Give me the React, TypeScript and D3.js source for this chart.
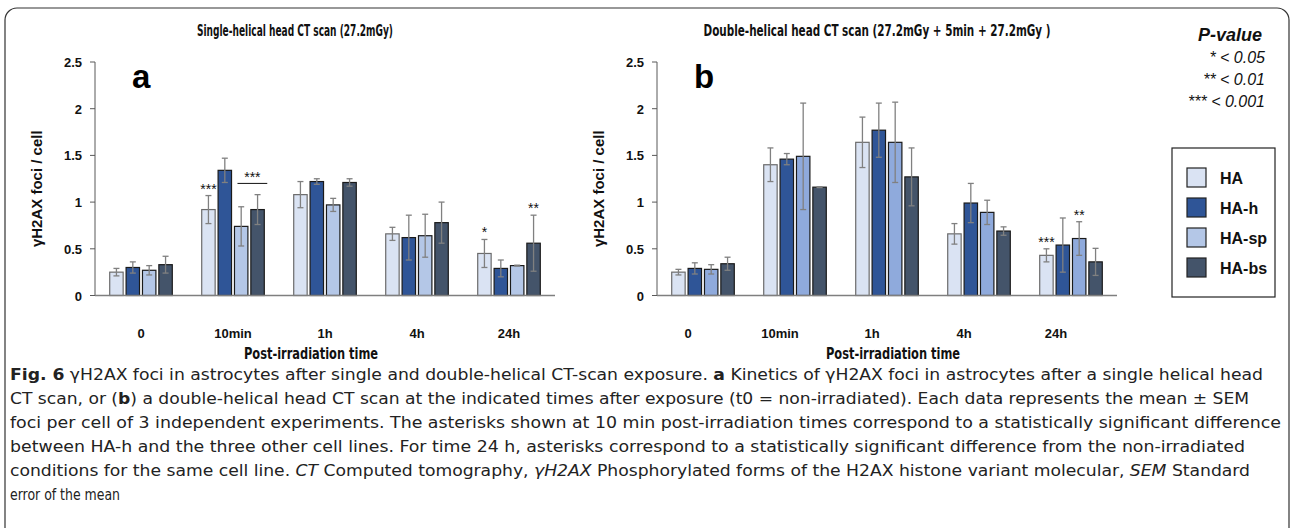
import React from "react";
import * as d3 from "d3";

const timePoints = ["0", "10min", "1h", "4h", "24h"];
const cellLines = ["HA", "HA-h", "HA-sp", "HA-bs"];
const yTicks = [0, 0.5, 1, 1.5, 2, 2.5];

// single-helical scan (panel a): mean and SEM per time point
const singleHA = [0.25, 0.92, 1.08, 0.66, 0.45];
const singleHAh = [0.3, 1.34, 1.22, 0.62, 0.29];
const singleHAsp = [0.27, 0.74, 0.97, 0.64, 0.32];
const singleHAbs = [0.33, 0.92, 1.21, 0.78, 0.56];
const singleHAerr = [0.04, 0.15, 0.14, 0.07, 0.15];
const singleHAhErr = [0.06, 0.13, 0.03, 0.24, 0.09];
const singleHAspErr = [0.05, 0.21, 0.07, 0.23, 0.005];
const singleHAbsErr = [0.09, 0.16, 0.04, 0.22, 0.3];

// double-helical scan (panel b)
const doubleHA = [0.25, 1.4, 1.64, 0.66, 0.43];
const doubleHAh = [0.29, 1.46, 1.77, 0.99, 0.54];
const doubleHAsp = [0.28, 1.49, 1.64, 0.89, 0.61];
const doubleHAbs = [0.34, 1.16, 1.27, 0.69, 0.36];
const doubleHAerr = [0.03, 0.18, 0.27, 0.11, 0.07];
const doubleHAhErr = [0.06, 0.06, 0.29, 0.21, 0.29];
const doubleHAspErr = [0.05, 0.57, 0.43, 0.13, 0.18];
const doubleHAbsErr = [0.07, 0.005, 0.31, 0.045, 0.145];

const singleStars = [
  { time: "10min", line: "HA", label: "***" },
  { time: "24h", line: "HA", label: "*" },
  { time: "24h", line: "HA-bs", label: "**" },
];
const doubleStars = [
  { time: "24h", line: "HA", label: "***" },
  { time: "24h", line: "HA-sp", label: "**" },
];
const pValueLines = ["* < 0.05", "** < 0.01", "*** < 0.001"];

const fillsA: Record<string, string> = {
  HA: "#dae3f3",
  "HA-h": "#2f5597",
  "HA-sp": "#b4c7e7",
  "HA-bs": "#44546a",
};
const fillsB: Record<string, string> = { ...fillsA, "HA-sp": "#8faadc" };

const arial = "Liberation Sans, Arial, sans-serif";
const narrow = "DejaVu Sans Condensed, Liberation Sans, sans-serif";

function Panel({ left, means, errs, fills, stars, letter, title, titleX, titleLen, bracket, labelShift }: any) {
  const top = 62;
  const bottom = 295.5;
  const width = 460;
  const x = d3.scaleBand().domain(timePoints).range([left, left + width]).paddingInner(0.32).paddingOuter(0.16);
  const xi = d3.scaleBand().domain(cellLines).range([0, x.bandwidth()]).paddingInner(0.18);
  const y = d3.scaleLinear().domain([0, 2.5]).range([bottom, top]);
  const bx = (t: string, c: string) => (x(t) as number) + (xi(c) as number);
  const bw = xi.bandwidth();

  return (
    <g>
      <text x={titleX} y={36} fontFamily={narrow} fontWeight="bold" fontSize={16} textAnchor="middle"
        textLength={titleLen} lengthAdjust="spacingAndGlyphs" fill="#111">{title}</text>
      {/* y axis */}
      <line x1={left} x2={left} y1={top} y2={bottom} stroke="#595959" strokeWidth={1} />
      {yTicks.map((t) => (
        <g key={t}>
          <line x1={left - 5} x2={left} y1={y(t)} y2={y(t)} stroke="#595959" />
          <text x={left - 13} y={y(t) + 5} textAnchor="end" fontFamily={arial} fontWeight="bold" fontSize={13} fill="#111">{t}</text>
        </g>
      ))}
      <text transform={`translate(${left - 53},${(top + bottom) / 2 + 10}) rotate(-90)`} textAnchor="middle"
        fontFamily={arial} fontWeight="bold" fontSize={15} fill="#111">γH2AX foci / cell</text>
      <text x={left + 37} y={88} fontFamily={arial} fontWeight="bold" fontSize={33} fill="#000">{letter}</text>
      {/* bars */}
      {cellLines.map((c, ci) =>
        timePoints.map((t, ti) => {
          const v = means[ci][ti];
          const e = errs[ci][ti];
          const cx = bx(t, c) + bw / 2;
          return (
            <g key={c + t}>
              <rect x={bx(t, c)} y={y(v)} width={bw} height={y(0) - y(v)} fill={fills[c]}
                stroke={c === "HA" ? "#6b6b6b" : "#1a1a1a"} strokeWidth={1.2} />
              <line x1={cx} x2={cx} y1={y(v - e)} y2={y(v + e)} stroke="#808080" strokeWidth={1.3} />
              <line x1={cx - 3} x2={cx + 3} y1={y(v + e)} y2={y(v + e)} stroke="#808080" strokeWidth={1.3} />
              <line x1={cx - 3} x2={cx + 3} y1={y(v - e)} y2={y(v - e)} stroke="#808080" strokeWidth={1.3} />
            </g>
          );
        })
      )}
      {/* x axis */}
      <line x1={left} x2={left + width} y1={bottom} y2={bottom} stroke="#7f7f7f" strokeWidth={1.6} />
      {timePoints.map((t) => (
        <text key={t} x={(x(t) as number) + x.bandwidth() / 2 + labelShift} y={338} textAnchor="middle" fontFamily={arial}
          fontWeight="bold" fontSize={13} fill="#111">{t}</text>
      ))}
      {stars.map((s: any, i: number) => {
        const ci = cellLines.indexOf(s.line);
        const ti = timePoints.indexOf(s.time);
        const top2 = y(means[ci][ti] + errs[ci][ti]);
        return (
          <text key={i} x={bx(s.time, s.line) + bw / 2} y={top2 - 2} textAnchor="middle" fontFamily={arial}
            fontSize={14} fill="#111">{s.label}</text>
        );
      })}
      {bracket && (
        <g>
          <line x1={bx(bracket.time, bracket.from) + 3} x2={bx(bracket.time, bracket.to) + bw + 3}
            y1={y(bracket.level)} y2={y(bracket.level)} stroke="#111" strokeWidth={1} />
          <text x={(bx(bracket.time, bracket.from) + bx(bracket.time, bracket.to) + bw + 6) / 2} y={y(bracket.level) - 1}
            textAnchor="middle" fontFamily={arial} fontSize={14} fill="#111">{bracket.label}</text>
        </g>
      )}
    </g>
  );
}

export default function App() {
  const capLines = [
    [
      { t: "Fig. 6", b: true },
      { t: " γH2AX foci in astrocytes after single and double-helical CT-scan exposure. " },
      { t: "a", b: true },
      { t: " Kinetics of γH2AX foci in astrocytes after a single helical head" },
    ],
    [
      { t: "CT scan, or (" },
      { t: "b", b: true },
      { t: ") a double-helical head CT scan at the indicated times after exposure (t0 = non-irradiated). Each data represents the mean ± SEM" },
    ],
    [{ t: "foci per cell of 3 independent experiments. The asterisks shown at 10 min post-irradiation times correspond to a statistically significant difference" }],
    [{ t: "between HA-h and the three other cell lines. For time 24 h, asterisks correspond to a statistically significant difference from the non-irradiated" }],
    [
      { t: "conditions for the same cell line. " },
      { t: "CT", i: true },
      { t: " Computed tomography, " },
      { t: "γH2AX", i: true },
      { t: " Phosphorylated forms of the H2AX histone variant molecular, " },
      { t: "SEM", i: true },
      { t: " Standard" },
    ],
    [{ t: "error of the mean" }],
  ];
  const capLens = [1253, 1239, 1271, 1235, 1240, 110];

  return (
    <svg width={1292} height={528} style={{ position: "absolute", left: 0, top: 0, background: "#fff" }}>
      <rect x={5} y={8} width={1284} height={540} rx={12} fill="none" stroke="#333" strokeWidth={1.2} />
      <Panel left={95} means={[singleHA, singleHAh, singleHAsp, singleHAbs]}
        errs={[singleHAerr, singleHAhErr, singleHAspErr, singleHAbsErr]} fills={fillsA} stars={singleStars}
        letter="a" title="Single-helical head CT scan (27.2mGy)" titleX={295} titleLen={196} labelShift={0}
        bracket={{ time: "10min", from: "HA-sp", to: "HA-bs", level: 1.2, label: "***" }} />
      <Panel left={657} means={[doubleHA, doubleHAh, doubleHAsp, doubleHAbs]}
        errs={[doubleHAerr, doubleHAhErr, doubleHAspErr, doubleHAbsErr]} fills={fillsB} stars={doubleStars}
        letter="b" title="Double-helical head CT scan (27.2mGy + 5min + 27.2mGy )" titleX={877} titleLen={347}
        labelShift={-15} />
      <text x={311} y={359} textAnchor="middle" fontFamily={narrow} fontWeight="bold" fontSize={16}
        textLength={134} lengthAdjust="spacingAndGlyphs" fill="#111">Post-irradiation time</text>
      <text x={893} y={359} textAnchor="middle" fontFamily={narrow} fontWeight="bold" fontSize={16}
        textLength={134} lengthAdjust="spacingAndGlyphs" fill="#111">Post-irradiation time</text>
      {/* p-value key */}
      <text x={1262} y={41} textAnchor="end" fontFamily={arial} fontWeight="bold" fontStyle="italic" fontSize={18} fill="#111">P-value</text>
      {pValueLines.map((p, i) => (
        <text key={p} x={1265} y={63 + i * 22} textAnchor="end" fontFamily={arial} fontStyle="italic" fontSize={16} fill="#111">{p}</text>
      ))}
      {/* legend */}
      <rect x={1172} y={148} width={103} height={149} fill="#fff" stroke="#222" strokeWidth={1.2} />
      {cellLines.map((c, i) => (
        <g key={c}>
          <rect x={1187} y={168 + i * 30} width={19} height={19} fill={fillsA[c]} stroke="#222" strokeWidth={1.2} />
          <text x={1220} y={184 + i * 30} fontFamily={arial} fontWeight="bold" fontSize={16} fill="#111">{c}</text>
        </g>
      ))}
      {/* caption */}
      {capLines.map((ln, i) => (
        <text key={i} x={10} y={380 + i * 24} fontFamily={narrow} fontSize={16} fill="#222"
          textLength={capLens[i]} lengthAdjust="spacingAndGlyphs">
          {ln.map((s: any, j: number) => (
            <tspan key={j} fontWeight={s.b ? "bold" : "normal"} fontStyle={s.i ? "italic" : "normal"}>{s.t}</tspan>
          ))}
        </text>
      ))}
    </svg>
  );
}
